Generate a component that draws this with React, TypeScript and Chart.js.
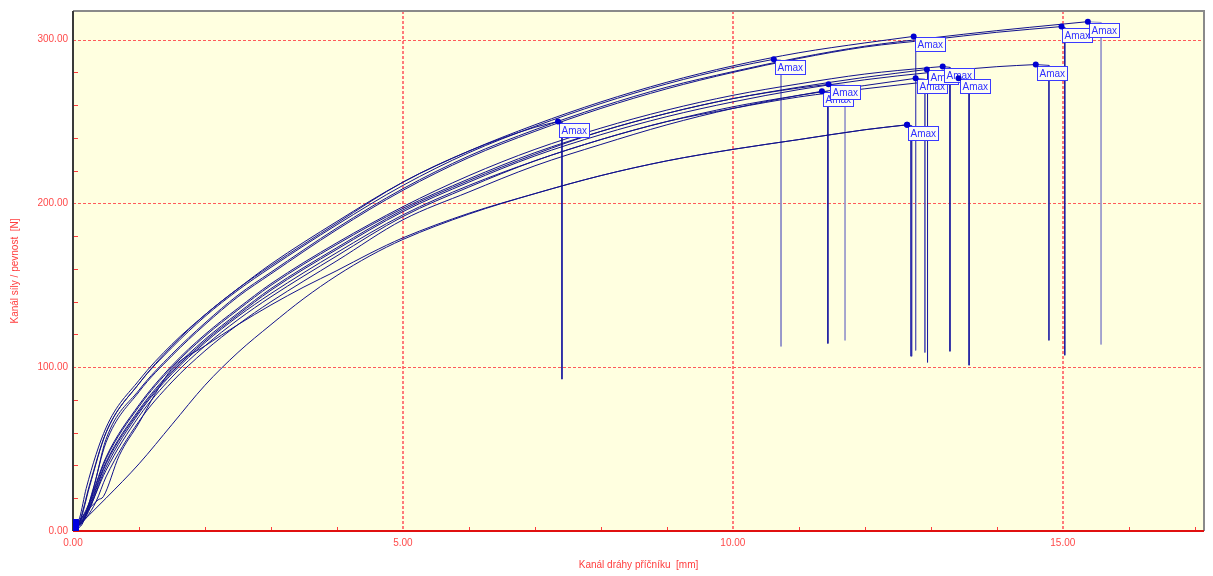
import React, { useEffect, useRef } from 'react';
import { Chart, registerables } from 'chart.js';

Chart.register(...registerables);

// ---------- axis data ----------
const X_MIN = 0;
const X_MAX = 17.14;
const Y_MIN = 0;
const Y_MAX = 317.5;
const X_TICKS = [0, 5, 10, 15];
const X_TICK_LABELS = ['0.00', '5.00', '10.00', '15.00'];
const Y_TICKS = [0, 100, 200, 300];
const Y_TICK_LABELS = ['0.00', '100.00', '200.00', '300.00'];
const X_MINOR = [1, 2, 3, 4, 6, 7, 8, 9, 11, 12, 13, 14, 16, 17];
const Y_MINOR = [20, 40, 60, 80, 120, 140, 160, 180, 220, 240, 260, 280];
const X_TITLE = 'Kanál dráhy příčníku  [mm]';
const Y_TITLE = 'Kanál síly / pevnost  [N]';
const PEAK_LABEL = 'Amax';

// ---------- curves (x [mm], y [N]) ----------
const curveA = [[0,0],[0.1,8],[0.2,26],[0.5,63],[1,92],[1.5,114],[2,132],[2.5,148],[3,162],[4,188],[5,213],[6,232],[7,246.5],[7.35,250]];
const curveB = [[0,0],[0.1,6],[0.25,28],[0.5,60],[1,90],[1.5,112],[2,131],[2.5,147],[3,161],[4,187],[5,211],[6,231],[7,247],[8,261],[9,273],[10,283],[10.62,288]];
const curveC = [[0,0],[0.1,5],[0.25,27],[0.5,60],[1,90],[1.5,113],[2,132],[2.5,148],[3,163],[4,189],[5,213],[6,232],[7,248],[8,262],[9,274],[10,284],[11,292],[12,298],[12.74,302]];
const curveD = [[0,0],[0.15,6],[0.3,25],[0.5,54],[1,85],[1.5,107],[2,126],[2.5,143],[3,157],[4,184],[5,208],[6,228],[7,244],[8,258],[9,270],[10,280],[11,288.5],[12,295.5],[13,300],[14,304.5],[14.98,308]];
const curveE = [[0,0],[0.15,5],[0.3,24],[0.5,56],[1,86],[1.5,108],[2,127],[2.5,144],[3,158],[4,185],[5,209],[6,229],[7,245],[8,259],[9,271],[10,280.5],[11,289],[12,296],[13,301],[14,305.5],[15,309.5],[15.38,311]];
const curveP1 = [[0,0],[0.2,8],[0.35,18],[0.5,33],[1,67],[1.5,91],[2,110],[2.5,126],[3,140],[4,165],[5,190],[6,207],[7,223],[8,236],[9,248],[10,258],[11,266],[11.35,268.5]];
const curveP2 = [[0,0],[0.2,12],[0.5,44],[1,76],[1.5,100],[2,119],[2.5,135],[3,150],[4,175],[5,197],[6,215],[7,231],[8,244],[9,255],[10,264],[11,270.5],[11.45,272.7]];
const curveP3 = [[0,0],[0.2,10],[0.5,37],[1,70],[1.5,94],[2,113],[2.5,129],[3,143],[4,168],[5,192],[6,210],[7,226],[8,239],[9,250],[10,259],[11,266],[12,272],[12.77,276.4]];
const curveP4 = [[0,0],[0.2,11],[0.5,42],[1,74],[1.5,98],[2,117],[2.5,133],[3,148],[4,173],[5,196],[6,214],[7,230],[8,244],[9,255],[10,264],[11,271],[12,277],[12.94,281.8]];
const curveP5 = [[0,0],[0.2,13],[0.5,45],[1,77],[1.5,101],[2,120],[2.5,136],[3,151],[4,176],[5,198],[6,217],[7,233],[8,246],[9,257],[10,266],[11,273],[12,279],[13,283],[13.18,283.6]];
const curveP6 = [[0,0],[0.2,9],[0.5,39],[1,72],[1.5,96],[2,115],[2.5,131],[3,145],[4,170],[5,193],[6,211],[7,226],[8,239],[9,250],[10,258],[11,265],[12,270],[13,274.5],[13.42,276.4]];
const curveF = [[0,0],[0.2,10],[0.5,41],[1,73],[1.5,97],[2,116],[2.5,132],[3,147],[4,172],[5,195],[6,213],[7,229],[8,242],[9,253],[10,262],[11,269.5],[12,275.5],[13,280],[14,283.5],[14.59,284.8]];
const curveG = [[0,0],[0.5,20],[1,41],[1.5,65],[2,89],[2.5,109],[3,126],[3.5,142],[4,156],[4.5,168],[5,178],[6,193.5],[7,206],[8,217],[9,226],[10,233],[11,239],[12,245],[12.64,248]];
const curveH = [[0,0],[0.15,9],[0.38,19],[0.46,21],[0.7,46],[1,66],[1.25,84],[1.52,100],[2,113],[2.5,126],[3,138],[3.5,149],[4,159],[4.5,169.5],[5,179],[6,194],[7,206],[8,217],[9,226],[10,233],[11,239],[12,245],[12.64,248]];

const CURVES = [curveA, curveB, curveC, curveD, curveE, curveP1, curveP2, curveP3, curveP4, curveP5, curveP6, curveF, curveG, curveH];

// break (drop) after the maximum: x of the vertical drop and the force it drops to
const DROP_X = [7.41, 10.73, 12.77, 15.03, 15.58, 11.44, 11.70, 12.91, 12.95, 13.29, 13.58, 14.79, 12.70, 12.71];
const DROP_END = [92.7, 112.7, 110.3, 107.3, 113.9, 114.5, 116.4, 109.0, 103.0, 109.7, 101.2, 116.4, 106.7, 106.7];

// origin block (start of the records)
const ORIGIN_BLOCK = [[0, 0], [0, 7], [0.08, 7], [0.08, 0]];

// ---------- styles ----------
const RED = '#ff3c3c';
const GRID_RED = '#ff5a5a';
const GRID_RED_V = '#ff7a7a';
const LABEL_RED = '#ff4a4a';
const PLOT_BG = '#ffffe0';
const CURVE_COLOR = '#12128c';
const DROP_COLORS = ['#1a1aa0', '#8c8cc8', '#5a5ab8', '#1a1aa0', '#9a9acc', '#1a1aa0', '#9a9acc', '#5a5ab8', '#1a1aa0', '#1a1aa0', '#1a1aa0', '#2a2aa8', '#2a2aa8', '#4a4ab4'];
const FONT_FAMILY = "'Liberation Sans', Arial, sans-serif";

const toPts = (arr) => arr.map(([x, y]) => ({ x, y }));

const App = () => {
  const ref = useRef(null);

  useEffect(() => {
    const canvas = ref.current;
    if (!canvas) return;

    const peaks = CURVES.map((c) => ({ x: c[c.length - 1][0], y: c[c.length - 1][1] }));

    const datasets = [];
    datasets.push({
      label: 'peaks',
      data: peaks,
      showLine: false,
      pointRadius: 3,
      pointBackgroundColor: '#0000d0',
      pointBorderColor: '#0000d0',
      pointBorderWidth: 0,
      order: -1,
    });
    CURVES.forEach((c, i) => {
      datasets.push({
        label: 'curve' + i,
        data: toPts(c),
        borderColor: CURVE_COLOR,
        borderWidth: 1,
        pointRadius: 0,
        cubicInterpolationMode: 'monotone',
        fill: false,
        order: 1,
      });
      const last = c[c.length - 1];
      datasets.push({
        label: 'drop' + i,
        data: [
          { x: last[0], y: last[1] },
          { x: DROP_X[i], y: last[1] - 0.5 },
          { x: DROP_X[i], y: DROP_END[i] },
        ],
        borderColor: DROP_COLORS[i],
        borderWidth: 1,
        pointRadius: 0,
        tension: 0,
        fill: false,
        order: 2,
      });
    });
    datasets.push({
      label: 'origin',
      data: toPts(ORIGIN_BLOCK),
      borderColor: '#0000e0',
      backgroundColor: '#0000e0',
      borderWidth: 1,
      pointRadius: 0,
      tension: 0,
      fill: 'origin',
      order: 0,
    });

    const decoPlugin = {
      id: 'deco',
      beforeDraw(chart) {
        const { ctx, chartArea: a } = chart;
        ctx.save();
        ctx.fillStyle = PLOT_BG;
        ctx.fillRect(a.left, a.top, a.right - a.left, a.bottom - a.top);
        ctx.restore();
      },
      beforeDatasetsDraw(chart) {
        const { ctx, chartArea: a, scales } = chart;
        ctx.save();
        // dashed major grid (drawn as small rectangles)
        ctx.fillStyle = GRID_RED_V;
        X_TICKS.forEach((v) => {
          if (v === X_MIN) return;
          const px = Math.round(scales.x.getPixelForValue(v));
          for (let y = Math.round(a.top); y < a.bottom; y += 5) {
            ctx.fillRect(px - 1, y, 2, Math.min(3, a.bottom - y));
          }
        });
        ctx.fillStyle = GRID_RED;
        Y_TICKS.forEach((v) => {
          if (v === Y_MIN) return;
          const py = Math.round(scales.y.getPixelForValue(v));
          for (let x = Math.round(a.left); x < a.right; x += 5) {
            ctx.fillRect(x, py, Math.min(3, a.right - x), 1);
          }
        });
        // top & right frame
        ctx.strokeStyle = '#8a8a8a';
        ctx.lineWidth = 2;
        ctx.beginPath();
        ctx.moveTo(a.left, a.top);
        ctx.lineTo(a.right, a.top);
        ctx.lineTo(a.right, a.bottom);
        ctx.stroke();
        // minor ticks
        ctx.strokeStyle = RED;
        ctx.lineWidth = 1;
        ctx.beginPath();
        X_MINOR.forEach((v) => {
          const px = Math.round(scales.x.getPixelForValue(v)) + 0.5;
          ctx.moveTo(px, a.bottom);
          ctx.lineTo(px, a.bottom - 4);
        });
        Y_MINOR.forEach((v) => {
          const py = Math.round(scales.y.getPixelForValue(v)) + 0.5;
          ctx.moveTo(a.left, py);
          ctx.lineTo(a.left + 5, py);
        });
        ctx.stroke();
        // axis lines
        ctx.lineWidth = 2;
        ctx.strokeStyle = '#3a3a3a';
        ctx.beginPath();
        ctx.moveTo(a.left, a.top);
        ctx.lineTo(a.left, a.bottom);
        ctx.stroke();
        ctx.strokeStyle = '#e01010';
        ctx.beginPath();
        ctx.moveTo(a.left, a.bottom);
        ctx.lineTo(a.right, a.bottom);
        ctx.stroke();
        ctx.restore();
      },
      beforeDatasetDraw(chart, args) {
        const ds = chart.data.datasets[args.index];
        if (!ds || ds.label !== 'peaks') return;
        const { ctx, scales, chartArea: a } = chart;
        ctx.save();
        ctx.beginPath();
        ctx.rect(a.left, a.top, a.right - a.left, a.bottom - a.top);
        ctx.clip();
        ctx.font = '10px ' + FONT_FAMILY;
        ctx.textBaseline = 'middle';
        ctx.textAlign = 'left';
        peaks.forEach((p) => {
          const px = Math.round(scales.x.getPixelForValue(p.x));
          const py = Math.round(scales.y.getPixelForValue(p.y));
          const bx = px + 1.5;
          const by = py + 1.5;
          const w = 30;
          const h = 14;
          ctx.fillStyle = '#fdfdf2';
          ctx.fillRect(bx, by, w, h);
          ctx.strokeStyle = '#3a3aff';
          ctx.lineWidth = 1;
          ctx.strokeRect(bx, by, w, h);
          ctx.fillStyle = '#2f2fff';
          ctx.fillText(PEAK_LABEL, bx + 2, by + h / 2 + 0.5);
        });
        ctx.restore();
      },
    };

    const tickFont = { family: FONT_FAMILY, size: 10 };

    const chart = new Chart(canvas, {
      type: 'line',
      data: { datasets },
      options: {
        animation: false,
        responsive: false,
        maintainAspectRatio: false,
        parsing: false,
        normalized: true,
        layout: { padding: { top: 8, right: 9, left: 0, bottom: 0 } },
        plugins: {
          legend: { display: false },
          tooltip: { enabled: false },
          title: { display: false },
        },
        scales: {
          x: {
            type: 'linear',
            min: X_MIN,
            max: X_MAX,
            afterBuildTicks: (s) => {
              s.ticks = X_TICKS.map((v) => ({ value: v }));
            },
            afterFit: (s) => {
              s.height = 45;
            },
            ticks: {
              autoSkip: false,
              maxRotation: 0,
              minRotation: 0,
              padding: 6,
              color: LABEL_RED,
              font: tickFont,
              callback: (v) => X_TICK_LABELS[X_TICKS.indexOf(Number(v))],
            },
            grid: { display: false, drawOnChartArea: false, drawTicks: false },
            border: { display: false },
            title: {
              display: true,
              text: X_TITLE,
              color: RED,
              font: { family: FONT_FAMILY, size: 10 },
              padding: { top: 0, bottom: 5 },
            },
          },
          y: {
            type: 'linear',
            min: Y_MIN,
            max: Y_MAX,
            afterBuildTicks: (s) => {
              s.ticks = Y_TICKS.map((v) => ({ value: v }));
            },
            afterFit: (s) => {
              s.width = 73;
            },
            ticks: {
              autoSkip: false,
              padding: 5,
              color: LABEL_RED,
              font: tickFont,
              callback: (v) => Y_TICK_LABELS[Y_TICKS.indexOf(Number(v))],
            },
            grid: { display: false, drawOnChartArea: false, drawTicks: false },
            border: { display: false },
            title: {
              display: true,
              text: Y_TITLE,
              color: RED,
              font: { family: FONT_FAMILY, size: 10 },
              padding: { top: 9, bottom: 0 },
            },
          },
        },
      },
      plugins: [decoPlugin],
    });

    return () => chart.destroy();
  }, []);

  return (
    <div style={{ position: 'absolute', left: 0, top: 0, width: 1213, height: 576, background: '#ffffff' }}>
      <canvas ref={ref} width={1213} height={576} style={{ display: 'block', width: 1213, height: 576 }} />
    </div>
  );
};

export default App;
